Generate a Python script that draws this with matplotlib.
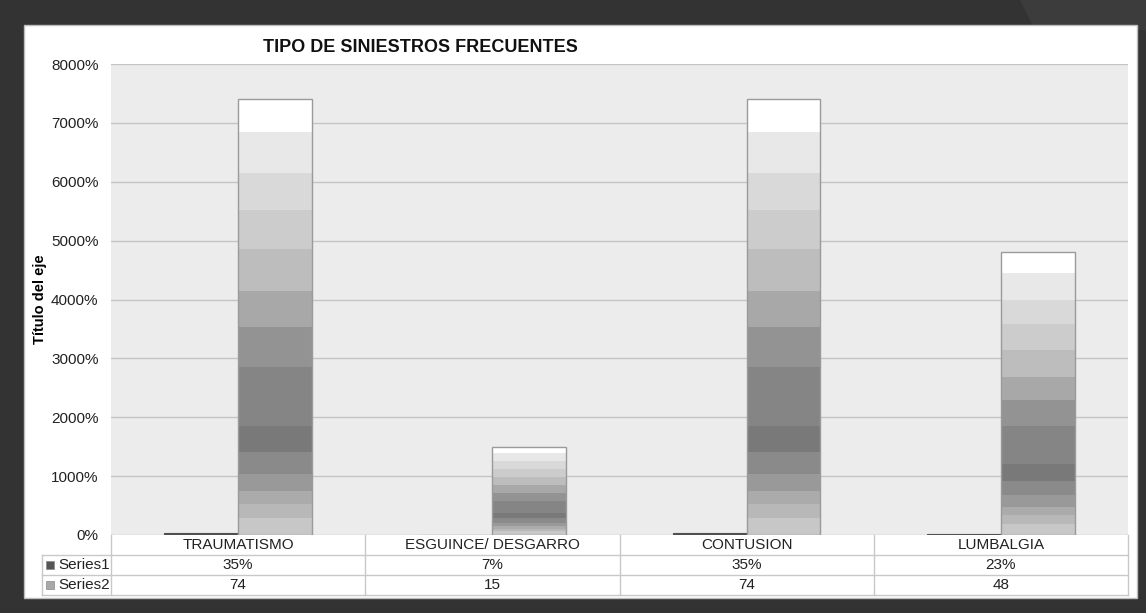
import matplotlib
matplotlib.use("Agg")
import matplotlib.pyplot as plt
import numpy as np
from matplotlib.patches import Rectangle
from matplotlib.ticker import FuncFormatter

categories = ["TRAUMATISMO", "ESGUINCE/ DESGARRO", "CONTUSION", "LUMBALGIA"]
series1 = [0.35, 0.07, 0.35, 0.23]
series2 = [74, 15, 74, 48]
series1_labels = ["35%", "7%", "35%", "23%"]
series2_labels = ["74", "15", "74", "48"]
series_names = ["Series1", "Series2"]
title = "TIPO DE SINIESTROS FRECUENTES"
ylabel = "Título del eje"
yticks = [0, 10, 20, 30, 40, 50, 60, 70, 80]

plt.rcParams['font.family'] = ['Liberation Sans', 'DejaVu Sans']

W, H = 1146, 613
fig = plt.figure(figsize=(W / 100, H / 100), dpi=100)
fig.patch.set_facecolor('#333333')

def fx(px):
    return px / W

def fy(py):
    return 1 - py / H

# decorative lighter triangle top-right
fig.patches.append(plt.Polygon([[fx(1020), fy(0)], [fx(1146), fy(0)], [fx(1146), fy(30)], [fx(1035), fy(30)]],
                               closed=True, transform=fig.transFigure, facecolor='#3c3c3c', edgecolor='none', zorder=0))
# white panel
fig.patches.append(Rectangle((fx(24), fy(598)), fx(1137) - fx(24), fy(25) - fy(598), transform=fig.transFigure,
                             facecolor='white', edgecolor='#bdbdbd', linewidth=1.0, zorder=0.5))

L, R, T, B = 111, 1128, 64, 535
ax = fig.add_axes([fx(L), fy(B), fx(R) - fx(L), fy(T) - fy(B)])
ax.set_zorder(3)
ax.set_facecolor('#ececec')
ax.set_xlim(-0.5, len(categories) - 0.5)
ax.set_ylim(0, 80)
ax.set_yticks(yticks)
ax.yaxis.set_major_formatter(FuncFormatter(lambda v, p: f"{int(round(v * 100))}%"))
ax.tick_params(axis='y', length=0, labelsize=11, labelcolor='#222222', pad=9)
ax.tick_params(axis='x', length=0, labelbottom=False)
ax.grid(axis='y', color='#c4c4c4', linewidth=1.0)
ax.set_axisbelow(True)
for s in ax.spines.values():
    s.set_visible(False)
ax.set_ylabel(ylabel, fontsize=10.5, fontweight='bold')
ax.yaxis.set_label_coords((47 - L) / (R - L), 0.50)

x = np.arange(len(categories))
bw = 0.29
off = 0.145

bars1 = ax.bar(x - off, series1, width=bw, color='#505050', edgecolor='#505050', linewidth=0.8, zorder=3)
bars2 = ax.bar(x + off, series2, width=bw, color='none', edgecolor='#9a9a9a', linewidth=1.0, zorder=4)

# banded gradient (fraction of bar height from bottom, gray level)
bands = [(0.0, 0.78), (0.04, 0.72), (0.07, 0.67), (0.10, 0.60), (0.14, 0.54), (0.19, 0.48),
         (0.25, 0.52), (0.385, 0.58), (0.477, 0.66), (0.56, 0.74), (0.654, 0.80),
         (0.746, 0.85), (0.83, 0.91), (0.925, 1.0)]
n = 400
grad = np.zeros(n)
fr = (np.arange(n) + 0.5) / n
for b0, g in bands:
    grad[fr >= b0] = g
img = np.repeat(grad[:, None], 2, axis=1)
for bar in bars2:
    x0, y0 = bar.get_x(), bar.get_y()
    w, h = bar.get_width(), bar.get_height()
    im = ax.imshow(img, cmap='gray', vmin=0, vmax=1, origin='lower', aspect='auto',
                   extent=[x0, x0 + w, y0, y0 + h], interpolation='nearest', zorder=3)
    im.set_clip_path(bar)
ax.set_xlim(-0.5, len(categories) - 0.5)
ax.set_ylim(0, 80)

# title
fig.text(fx(420), fy(47), title, ha='center', va='center', fontsize=13, fontweight='bold', color='#111111', zorder=4)

# data table
gc = '#c8c8c8'
colw = (R - L) / len(categories)
def hline(y, x0, x1):
    fig.add_artist(plt.Line2D([fx(x0), fx(x1)], [fy(y), fy(y)], transform=fig.transFigure, color=gc, linewidth=1.0, zorder=4))
def vline(xp, y0, y1):
    fig.add_artist(plt.Line2D([fx(xp), fx(xp)], [fy(y0), fy(y1)], transform=fig.transFigure, color=gc, linewidth=1.0, zorder=4))

hline(555, 42, R)
hline(575, 42, R)
hline(595, 42, R)
vline(42, 555, 595)
vline(L, 535, 595)
for i in range(1, len(categories) + 1):
    vline(L + colw * i, 535, 595)

for i, c in enumerate(categories):
    cx = L + colw * (i + 0.5)
    fig.text(fx(cx), fy(545), c, ha='center', va='center', fontsize=11, color='#222222', zorder=4)
    fig.text(fx(cx), fy(565), series1_labels[i], ha='center', va='center', fontsize=11, color='#222222', zorder=4)
    fig.text(fx(cx), fy(585), series2_labels[i], ha='center', va='center', fontsize=11, color='#222222', zorder=4)

marker_cols = ['#555555', '#a8a8a8']
for k, (nm, yy) in enumerate(zip(series_names, [565, 585])):
    fig.patches.append(Rectangle((fx(46), fy(yy + 4)), fx(8), 8 / H, transform=fig.transFigure,
                                 facecolor=marker_cols[k], edgecolor='#888888', linewidth=0.5, zorder=5))
    fig.text(fx(58), fy(yy), nm, ha='left', va='center', fontsize=11, color='#222222', zorder=4)

fig.savefig('out.png', dpi=100, facecolor=fig.get_facecolor())
